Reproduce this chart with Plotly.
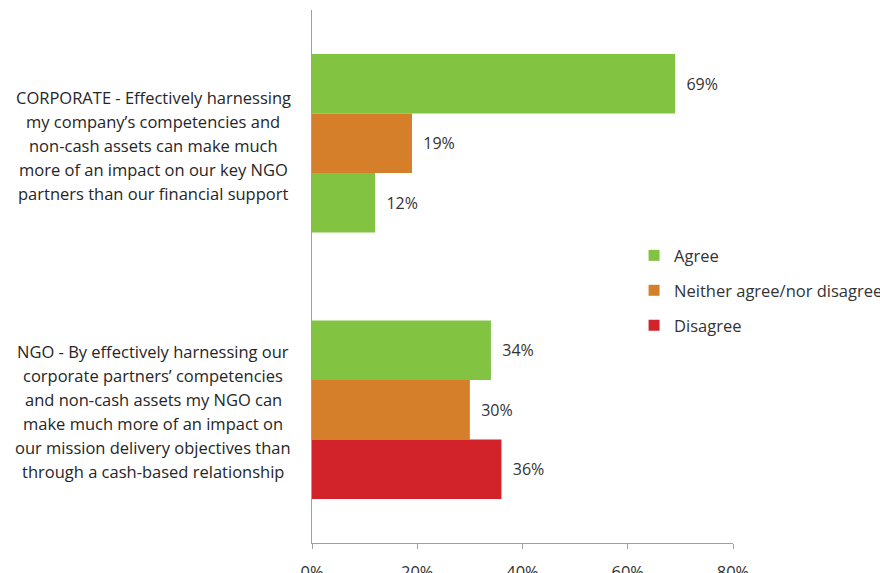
import plotly.graph_objects as go

categories = [
    "CORPORATE - Effectively harnessing<br>my company’s competencies and<br>non-cash assets can make much<br>more of an impact on our key NGO<br>partners than our financial support",
    "NGO - By effectively harnessing our<br>corporate partners’ competencies<br>and non-cash assets my NGO can<br>make much more of an impact on<br>our mission delivery objectives than<br>through a cash-based relationship",
]
series_names = ["Agree", "Neither agree/nor disagree", "Disagree"]
agree = [69, 34]
neither = [19, 30]
disagree = [12, 36]
x_ticks = [0, 20, 40, 60, 80]

GREEN = "#82c341"
ORANGE = "#d67f2b"
RED = "#d2232a"
series_colors = [[GREEN, GREEN], [ORANGE, ORANGE], [GREEN, RED]]
legend_colors = [GREEN, ORANGE, RED]

FONT = "Open Sans"
TXT = "#333333"

fig = go.Figure()
for name, vals, cols in zip(series_names, [agree, neither, disagree], series_colors):
    fig.add_trace(go.Bar(
        y=list(range(len(categories))), x=vals, orientation="h", name=name,
        marker=dict(color=cols, line=dict(width=0)),
        text=[f"\u00a0\u00a0{v}%" for v in vals], textposition="outside",
        textfont=dict(family=FONT, size=16, color=TXT),
        cliponaxis=False, showlegend=False,
    ))

for i, (name, col) in enumerate(zip(series_names, legend_colors)):
    fig.add_trace(go.Scatter(
        x=[None], y=[None], mode="markers", name=name, legendgroup=f"g{i}",
        marker=dict(symbol="square", size=11, color=col),
    ))

# category labels, one annotation per line, centred
for i, lab in enumerate(categories):
    lines = lab.split("<br>")
    n = len(lines)
    for j, ln in enumerate(lines):
        fig.add_annotation(
            x=0, xref="paper", xshift=-159, xanchor="center",
            y=i, yref="y", yshift=((n - 1) / 2 - j) * 24 - 2, yanchor="middle",
            text=ln, showarrow=False,
            font=dict(family=FONT, size=16.5, color="#262626"),
        )

# tick between the two categories
fig.add_shape(type="line", xref="x", xsizemode="pixel", xanchor=0, x0=-6, x1=0,
              yref="y", y0=0.5, y1=0.5, line=dict(color="#a0a0a0", width=1))

fig.update_layout(
    width=880, height=573,
    margin=dict(l=312, r=147, t=10, b=30, autoexpand=False),
    plot_bgcolor="white", paper_bgcolor="white",
    barmode="group", bargap=0.33, bargroupgap=0,
    font=dict(family=FONT, size=16, color=TXT),
    legend=dict(x=0.765, y=0.572, xanchor="left", yanchor="top",
                traceorder="grouped", tracegroupgap=10.5,
                font=dict(family=FONT, size=16.5, color=TXT), itemwidth=30,
                bgcolor="rgba(0,0,0,0)"),
    showlegend=True,
)
fig.update_xaxes(range=[0, 80], tickvals=x_ticks, ticktext=[f"{v}%" for v in x_ticks],
                 showgrid=False, zeroline=False, showline=True, linecolor="#a0a0a0",
                 linewidth=1, ticks="outside", ticklen=5, tickcolor="#a0a0a0",
                 ticklabelstandoff=9, automargin=False,
                 tickfont=dict(family=FONT, size=16.5, color=TXT))
fig.update_yaxes(range=[1.5, -0.5], showticklabels=False, showgrid=False, zeroline=False,
                 showline=True, linecolor="#a0a0a0", linewidth=1, ticks="",
                 automargin=False)

fig.write_html("out.html")
